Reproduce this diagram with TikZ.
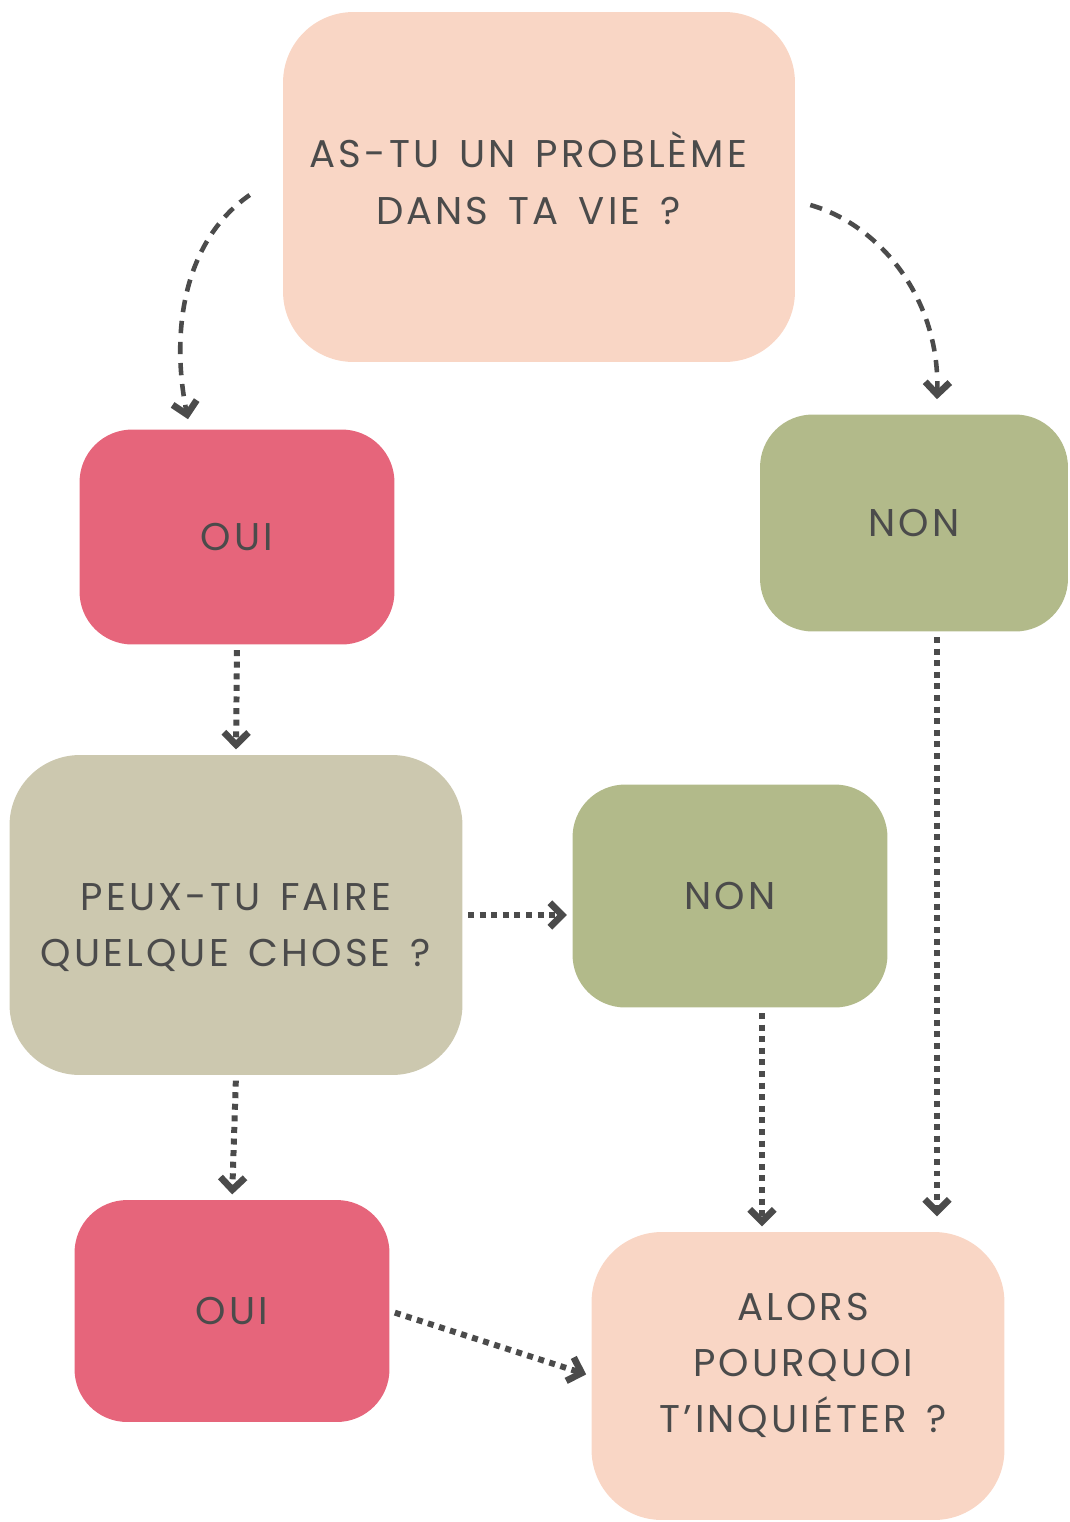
\documentclass[tikz,border=0pt]{standalone}
\usepackage{fontspec}
\setmainfont{Poppins}[LetterSpace=8, WordSpace=1.5]
\usetikzlibrary{arrows.meta}

\definecolor{peach}{HTML}{F9D6C5}
\definecolor{rose}{HTML}{E6657B}
\definecolor{olive}{HTML}{B2BA8A}
\definecolor{khaki}{HTML}{CCC8AF}
\definecolor{ink}{HTML}{4B4B4B}

\tikzset{
  blob/.style={fill=#1, text=ink, align=center, inner sep=0pt,
    rounded corners=30pt, font=\fontsize{22}{32}\selectfont},
  blobtext/.style={text=ink, align=center, inner sep=0pt, font=\fontsize{22}{32}\selectfont},
  dashline/.style={ink, line width=2.6pt, dash pattern=on 7pt off 5pt,
    -{Straight Barb[length=7pt,width=14pt,line width=3.8pt]}},
  dotline/.style={ink, line width=3.4pt, dash pattern=on 3.4pt off 3.2pt,
    shorten <=3pt, shorten >=3pt,
    -{Straight Barb[length=7pt,width=14pt,line width=3.8pt]}},
}

\begin{document}
\begin{tikzpicture}[x=0.02cm, y=-0.02cm]
    \useasboundingbox (0,0) rectangle (1069,1522);

    % Boxes %
    \node[blob=peach, minimum width=10.24cm, minimum height=7cm, rounded corners=40pt,
        label={[blobtext, yshift=5pt, xshift=-6pt]center:AS-TU UN PROBLÈME\\DANS TA VIE ?}] (ask) at (539,187) {};
    \node[blob=rose, minimum width=6.3cm, minimum height=4.3cm] (ouiA) at (237,537) {OUI};
    \node[blob=olive, minimum width=6.16cm, minimum height=4.34cm] (nonA) at (914,523) {NON};
    \node[blob=khaki, minimum width=9.06cm, minimum height=6.4cm, rounded corners=40pt,
        label={[blobtext, yshift=-7pt]center:PEUX-TU FAIRE\\QUELQUE CHOSE ?}] (peux) at (236,915) {};
    \node[blob=olive, minimum width=6.3cm, minimum height=4.46cm] (nonB) at (730,896) {NON};
    \node[blob=rose, minimum width=6.3cm, minimum height=4.44cm] (ouiB) at (232,1311) {OUI};
    \node[blob=peach, minimum width=8.26cm, minimum height=5.76cm, rounded corners=40pt,
        label={[blobtext, yshift=6pt, xshift=3pt]center:ALORS\\POURQUOI\\T'INQUIÉTER ?}] (alors) at (798,1376) {};

    % Dashed curves %
    \draw[dashline] ([shift={(-33,8)}]ask.west) .. controls +(-65,45) and +(-18,-90) .. ([shift={(-49,-10)}]ouiA.north);
    \draw[dashline] ([shift={(15,18)}]ask.east) .. controls +(70,20) and +(3,-100) .. ([shift={(23,-15)}]nonA.north);

    % Dotted arrows %
    \draw[dotline] (ouiA.south) -- (peux.north);
    \draw[dotline] (peux.east) -- (peux.east -| nonB.west);
    \draw[dotline] (peux.south) -- (ouiB.north);
    \draw[dotline] (ouiB.east) -- (alors.west);
    \draw[dotline] ([shift={(32,0)}]nonB.south) -- ([shift={(32,0)}]nonB.south |- alors.north);
    \draw[dotline] ([shift={(23,0)}]nonA.south) -- ([shift={(23,-10)}]nonA.south |- alors.north);
\end{tikzpicture}
\end{document}
